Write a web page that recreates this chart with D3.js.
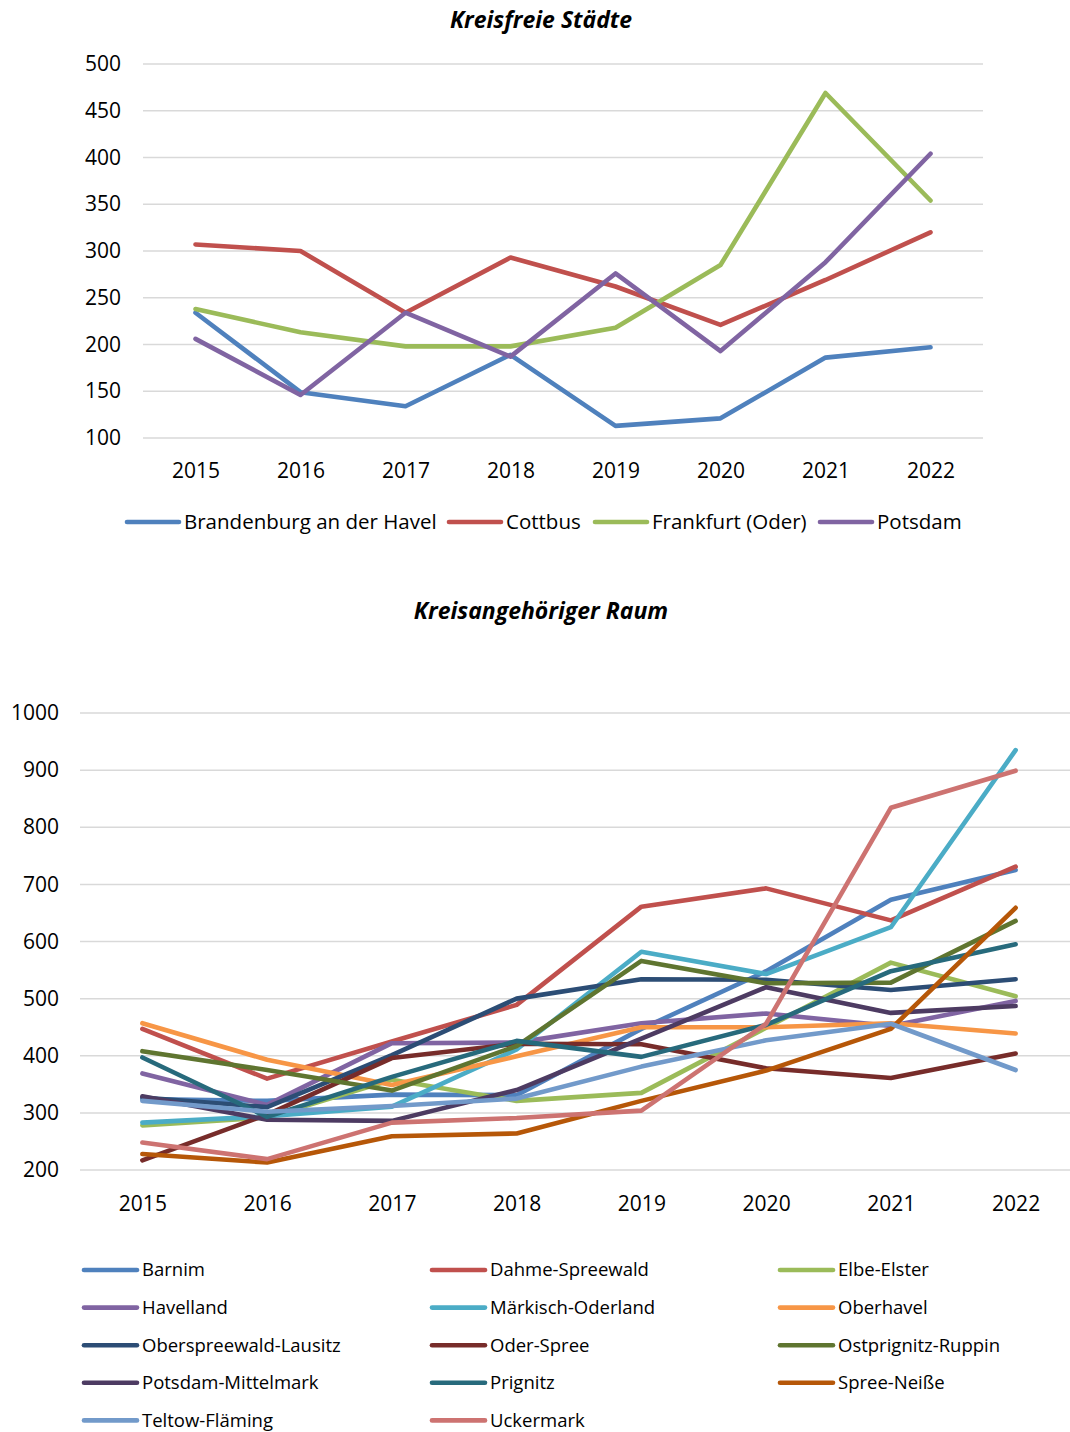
<!DOCTYPE html>
<html>
<head>
<meta charset="utf-8">
<script src="https://cdn.jsdelivr.net/npm/d3@7"></script>
<style>
  body { margin: 0; background: #fff; }
  svg text { font-family: "Open Sans", "Noto Sans", sans-serif; fill: #000; }
</style>
</head>
<body>
<svg id="chart" width="1070" height="1432"></svg>
<script>
// ---------- Data ----------
const years = ["2015", "2016", "2017", "2018", "2019", "2020", "2021", "2022"];

// Kreisfreie Städte
const citySeries = ["Brandenburg an der Havel", "Cottbus", "Frankfurt (Oder)", "Potsdam"];
const brandenburg = [234, 149, 134, 189, 113, 121, 186, 197];
const cottbus     = [307, 300, 234, 293, 262, 221, 269, 320];
const frankfurt   = [238, 213, 198, 198, 218, 285, 469, 354];
const potsdam     = [206, 146, 234, 187, 276, 193, 288, 404];
const cityColors  = ["#4F81BD", "#C0504D", "#9BBB59", "#8064A2"];
const cityTicks   = [100, 150, 200, 250, 300, 350, 400, 450, 500];

// Kreisangehöriger Raum
const districtSeries = ["Barnim", "Dahme-Spreewald", "Elbe-Elster", "Havelland", "Märkisch-Oderland",
  "Oberhavel", "Oberspreewald-Lausitz", "Oder-Spree", "Ostprignitz-Ruppin", "Potsdam-Mittelmark",
  "Prignitz", "Spree-Neiße", "Teltow-Fläming", "Uckermark"];
const barnim        = [324, 321, 332, 331, 447, 548, 673, 725];
const dahme         = [447, 360, 425, 489, 661, 693, 637, 731];
const elbeElster    = [278, 292, 358, 321, 335, 449, 563, 504];
const havelland     = [369, 314, 422, 423, 457, 474, 452, 496];
const maerkOder     = [283, 294, 311, 411, 582, 543, 625, 935];
const oberhavel     = [457, 393, 349, 399, 450, 450, 457, 439];
const osl           = [327, 310, 401, 500, 534, 533, 515, 534];
const oderSpree     = [217, 297, 396, 421, 420, 378, 361, 404];
const ostprignitz   = [408, 375, 339, 417, 566, 527, 528, 636];
const potsMittel    = [329, 288, 286, 340, 430, 520, 475, 487];
const prignitz      = [397, 293, 363, 426, 398, 454, 548, 595];
const spreeNeisse   = [228, 213, 259, 264, 321, 374, 447, 659];
const teltow        = [321, 302, 312, 325, 381, 427, 456, 375];
const uckermark     = [248, 219, 283, 291, 304, 456, 834, 899];
const districtColors = ["#4F81BD", "#C0504D", "#9BBB59", "#8064A2", "#4BACC6", "#F79646", "#2C4D75",
  "#772C2A", "#5F7530", "#4D3B62", "#276A7C", "#B65708", "#729ACA", "#CD7371"];
const districtTicks = [200, 300, 400, 500, 600, 700, 800, 900, 1000];

const cityValues = [brandenburg, cottbus, frankfurt, potsdam];
const districtValues = [barnim, dahme, elbeElster, havelland, maerkOder, oberhavel, osl, oderSpree,
  ostprignitz, potsMittel, prignitz, spreeNeisse, teltow, uckermark];

// ---------- Drawing ----------
const svg = d3.select("#chart");

function drawPanel(cfg) {
  const g = svg.append("g");
  const x = d3.scalePoint().domain(years).range([cfg.x0, cfg.x1]).padding(0.5);
  const y = d3.scaleLinear().domain(cfg.domain).range([cfg.yBottom, cfg.yTop]);

  // title
  g.append("text")
    .attr("x", cfg.titleX).attr("y", cfg.titleY)
    .attr("text-anchor", "middle")
    .style("font-weight", "bold").style("font-style", "italic").style("font-size", "23px")
    .text(cfg.title);

  // gridlines
  g.append("g").selectAll("line").data(cfg.ticks).join("line")
    .attr("x1", cfg.x0).attr("x2", cfg.gridX1)
    .attr("y1", d => y(d)).attr("y2", d => y(d))
    .attr("stroke", "#d9d9d9").attr("stroke-width", 1.5);

  // y axis labels
  const yAxis = d3.axisLeft(y).tickValues(cfg.ticks).tickSize(0).tickPadding(0).tickFormat(d3.format("d"));
  const ya = g.append("g").attr("transform", `translate(${cfg.yLabelX},0)`).call(yAxis);
  ya.select(".domain").remove();
  ya.selectAll("text").style("font-size", cfg.tickFont).attr("fill", "#000")
    .attr("font-family", null);

  // x axis labels
  const xAxis = d3.axisBottom(x).tickSize(0).tickPadding(0);
  const xa = g.append("g").attr("transform", `translate(0,${cfg.xLabelY})`).call(xAxis);
  xa.select(".domain").remove();
  xa.selectAll("text").style("font-size", cfg.tickFont).attr("fill", "#000")
    .attr("font-family", null);

  // lines
  const line = d3.line().x((d, i) => x(years[i])).y(d => y(d));
  g.append("g").selectAll("path").data(cfg.values).join("path")
    .attr("d", d => line(d))
    .attr("fill", "none")
    .attr("stroke", (d, i) => cfg.colors[i])
    .attr("stroke-width", 4.6)
    .attr("stroke-linejoin", "round")
    .attr("stroke-linecap", "round");

  // legend
  const lg = g.append("g");
  const items = lg.selectAll("g").data(cfg.names).join("g")
    .attr("transform", (d, i) => `translate(${cfg.legendPos(i)[0]},${cfg.legendPos(i)[1]})`);
  items.append("line")
    .attr("x1", 0).attr("x2", cfg.legendLine)
    .attr("y1", 0).attr("y2", 0)
    .attr("stroke", (d, i) => cfg.colors[i])
    .attr("stroke-width", 4.6)
    .attr("stroke-linecap", "round");
  items.append("text")
    .attr("x", cfg.legendLine + 5).attr("y", 0).attr("dy", "0.35em")
    .style("font-size", cfg.legendFont)
    .text(d => d);
}

drawPanel({
  title: "Kreisfreie Städte", titleX: 541, titleY: 28,
  x0: 143, x1: 983, gridX1: 983,
  domain: [100, 500], yBottom: 438, yTop: 64,
  ticks: cityTicks, yLabelX: 121, xLabelY: 463,
  tickFont: "21px",
  values: cityValues, colors: cityColors, names: citySeries,
  legendLine: 52, legendFont: "20.5px",
  legendPos: i => [[127, 522], [449, 522], [595, 522], [820, 522]][i]
});

drawPanel({
  title: "Kreisangehöriger Raum", titleX: 541, titleY: 619,
  x0: 80, x1: 1078, gridX1: 1070,
  domain: [200, 1000], yBottom: 1170, yTop: 713,
  ticks: districtTicks, yLabelX: 59, xLabelY: 1196,
  tickFont: "21px",
  values: districtValues, colors: districtColors, names: districtSeries,
  legendLine: 53, legendFont: "18.5px",
  legendPos: i => [84 + (i % 3) * 348, 1270 + Math.floor(i / 3) * 37.6]
});
</script>
</body>
</html>
